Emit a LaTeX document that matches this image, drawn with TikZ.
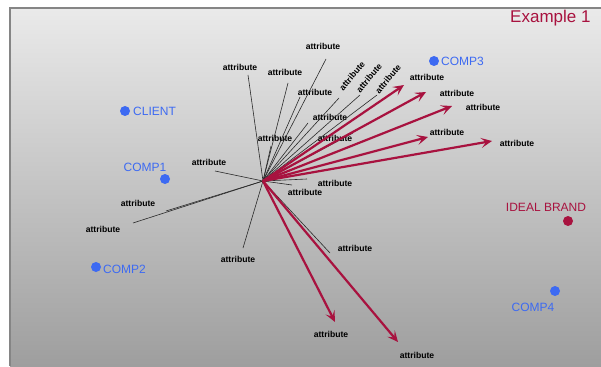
\documentclass[tikz,border=0pt]{standalone}
\usepackage{fontspec}
\setmainfont{Liberation Sans}
\usepackage{xcolor}
\usetikzlibrary{arrows.meta}
\definecolor{bgtop}{HTML}{EAEAEA}
\definecolor{bgbot}{HTML}{9E9E9E}
\definecolor{edge}{HTML}{858585}
\definecolor{brand}{HTML}{A8123F}
\definecolor{rival}{HTML}{3D6AF2}
\definecolor{ink}{HTML}{2A2A2A}
\tikzset{
  attr/.style={font=\fontsize{8.6}{9}\selectfont\bfseries, text=black, inner sep=0pt},
  pt/.style={font=\fontsize{12}{13}\selectfont, text=rival, inner sep=0pt},
  dot/.style={circle, fill=rival, inner sep=0pt, minimum size=10pt},
  vec/.style={draw=ink, line width=0.6pt},
  pull/.style={draw=brand, line width=2.2pt, -{Stealth[length=11pt,width=10pt,inset=5pt]}},
}

\begin{document}
\begin{tikzpicture}[x=1pt,y=-1pt]
\useasboundingbox (0,0) rectangle (601,366);
\shade[top color=bgtop, bottom color=bgbot] (10,8) rectangle (601,366);
\draw[edge, line width=1.4pt] (10,366) |- (601,8);
\node[anchor=west, font=\fontsize{17}{18}\selectfont, text=brand, inner sep=0pt] (ttl) at (510,18) {Example 1};

\coordinate (o) at (263,181);
% plain attribute vectors
\coordinate (l1) at (248,75);  \node[attr] (t1) at (240,67) {attribute};
\coordinate (l2) at (288,83);  \node[attr] (t2) at (285,72) {attribute};
\coordinate (l3) at (326,59);  \node[attr] (t3) at (323,46) {attribute};
\coordinate (l4) at (300,97);  \node[attr] (t4) at (315,92) {attribute};
\coordinate (l5) at (339,98);  \node[attr, rotate=50] (t5) at (352,76) {attribute};
\coordinate (l6) at (360,95);  \node[attr, rotate=50] (t6) at (369,78) {attribute};
\coordinate (l7) at (377,95);  \node[attr, rotate=50] (t7) at (388,79) {attribute};
\coordinate (l8) at (308,123); \node[attr] (t8) at (330,117) {attribute};
\coordinate (l9) at (271,146); \node[attr] (t9) at (275,138) {attribute};
\coordinate (l10) at (353,133); \node[attr] (t10) at (335,138) {attribute};
\coordinate (l11) at (215,171); \node[attr] (t11) at (209,162) {attribute};
\coordinate (l12) at (166,211); \node[attr] (t12) at (138,203) {attribute};
\coordinate (l13) at (133,223); \node[attr] (t13) at (103,229) {attribute};
\coordinate (l14) at (243,248); \node[attr] (t14) at (238,259) {attribute};
\coordinate (l15) at (307,179); \node[attr] (t15) at (335,183) {attribute};
\coordinate (l16) at (292,185); \node[attr] (t16) at (305,192) {attribute};
\coordinate (l17) at (330,253); \node[attr] (t17) at (355,248) {attribute};
\foreach \i in {1,...,17} \draw[vec] (o) -- (l\i);

% attributes that pull toward the ideal
\coordinate (a1) at (404,85);  \node[attr] (u1) at (427,77) {attribute};
\coordinate (a2) at (426,92);  \node[attr] (u2) at (457,93) {attribute};
\coordinate (a3) at (452,106); \node[attr] (u3) at (483,107) {attribute};
\coordinate (a4) at (428,137); \node[attr] (u4) at (447,132) {attribute};
\coordinate (a5) at (492,141); \node[attr] (u5) at (517,143) {attribute};
\coordinate (a6) at (335,322); \node[attr] (u6) at (331,334) {attribute};
\coordinate (a7) at (398,342); \node[attr] (u7) at (417,355) {attribute};
\foreach \i in {1,...,7} \draw[pull] (o) -- (a\i);

% brands
\node[dot] (cli) at (125,111) {};  \node[pt, anchor=west] (clit) at (133,111) {CLIENT};
\node[dot] (c1) at (165,179) {};   \node[pt] (c1t) at (145,167) {COMP1};
\node[dot] (c2) at (96,267) {};    \node[pt, anchor=west] (c2t) at (103,269) {COMP2};
\node[dot] (c3) at (434,61) {};    \node[pt, anchor=west] (c3t) at (441,61) {COMP3};
\node[dot] (c4) at (555,291) {};   \node[pt] (c4t) at (533,307) {COMP4};
\node[dot, fill=brand] (ib) at (568,221) {}; \node[pt, text=brand] (ibt) at (546,207) {IDEAL BRAND};
\end{tikzpicture}
\end{document}
